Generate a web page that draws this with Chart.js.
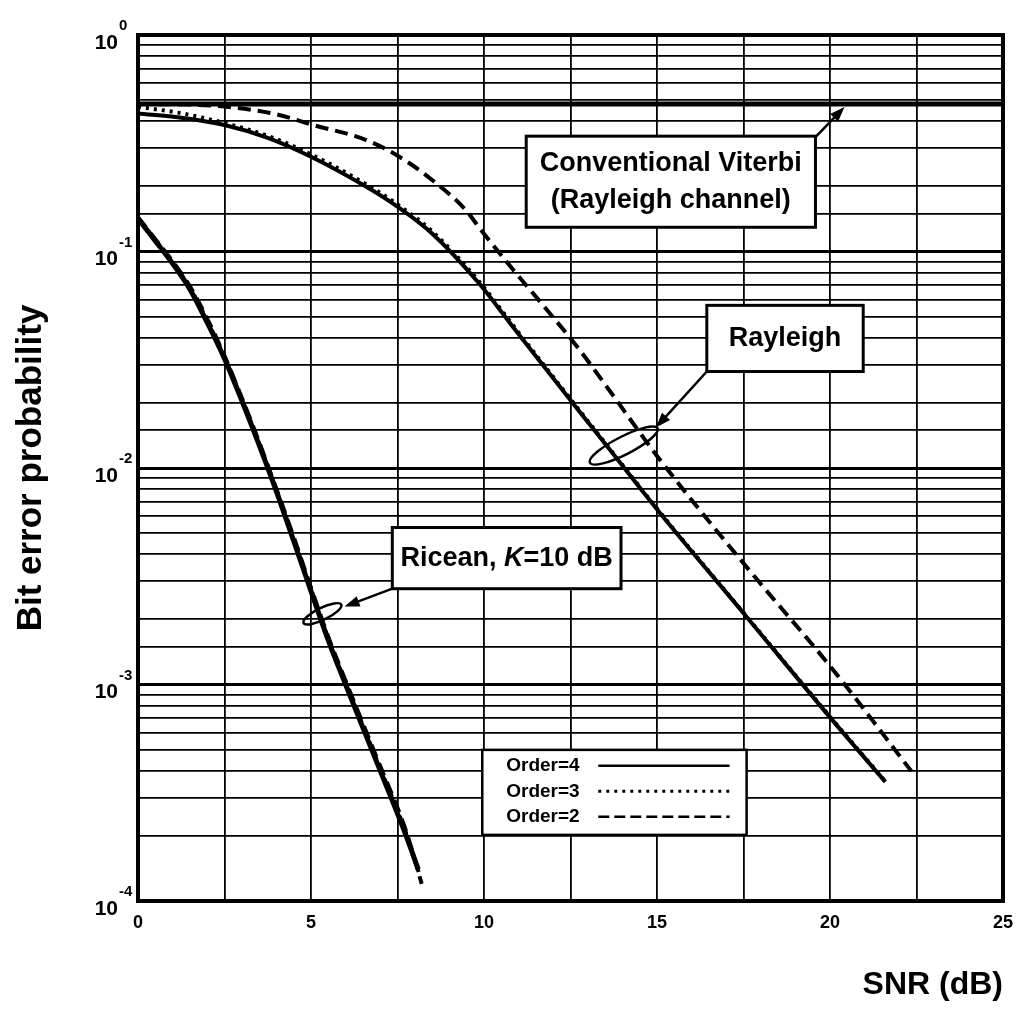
<!DOCTYPE html>
<html>
<head>
<meta charset="utf-8">
<script src="https://cdn.jsdelivr.net/npm/chart.js@4.4.1/dist/chart.umd.min.js"></script>
<style>
  html, body { margin: 0; padding: 0; background: #fff; }
  #wrap { width: 1024px; height: 1010px; }
</style>
</head>
<body>
<div id="wrap"><canvas id="myChart" width="1024" height="1010"></canvas></div>
<script>
// Values: SNR in dB, bit error probability
const viterbiSnr = [0, 25];
const viterbiBer = [0.48, 0.48];

const rayleigh4Snr = [0, 1.25, 2.5, 3.75, 5, 6.6, 7.5, 8.5, 9.86, 10.82, 11.78, 12.74, 13.61, 15.05, 17.55, 20.05, 21.6];
const rayleigh4Ber = [0.434, 0.415, 0.384, 0.335, 0.274, 0.199, 0.161, 0.121, 0.0711, 0.0452, 0.0288, 0.0184, 0.0123, 0.0063, 0.00209, 0.00069, 0.000355];

const rayleigh3Snr = [0, 1.25, 2.5, 3.75, 5, 6.6, 7.5, 8.5, 9.86, 10.82, 11.78, 12.74, 13.61, 15.05, 17.55, 20.05, 21.6];
const rayleigh3Ber = [0.466, 0.435, 0.392, 0.342, 0.281, 0.204, 0.165, 0.124, 0.0726, 0.046, 0.0292, 0.0186, 0.0124, 0.00635, 0.0021, 0.000695, 0.000357];

const rayleigh2Snr = [0, 1.5, 2.75, 4, 5.06, 6.6, 7.55, 8.5, 9.48, 9.86, 10.82, 11.78, 12.74, 13.55, 15.05, 17.55, 20.05, 22.35];
const rayleigh2Ber = [0.48, 0.477, 0.463, 0.43, 0.384, 0.327, 0.274, 0.214, 0.155, 0.129, 0.0832, 0.0547, 0.0355, 0.0237, 0.0111, 0.00355, 0.00119, 0.000398];

const ricean4Snr = [0, 0.5, 1, 1.5, 2, 2.5, 3, 3.5, 4, 4.5, 5, 5.5, 6, 7, 7.75, 8.1];
const ricean4Ber = [0.142, 0.112, 0.088, 0.067, 0.047, 0.032, 0.0205, 0.0128, 0.0078, 0.0046, 0.0027, 0.0016, 0.001, 0.0004, 0.0002, 0.00014];

const ricean3Snr = [0, 0.5, 1, 1.5, 2, 2.5, 3, 3.5, 4, 4.5, 5, 5.5, 6, 7, 7.75, 8.15];
const ricean3Ber = [0.143, 0.113, 0.089, 0.068, 0.048, 0.0325, 0.0208, 0.013, 0.0079, 0.0047, 0.00275, 0.00163, 0.00102, 0.00041, 0.000205, 0.00013];

const ricean2Snr = [0, 0.5, 1, 1.5, 2, 2.5, 3, 3.5, 4, 4.5, 5, 5.5, 6, 7, 7.75, 8.2];
const ricean2Ber = [0.144, 0.114, 0.09, 0.069, 0.049, 0.033, 0.0211, 0.0132, 0.008, 0.0048, 0.0028, 0.00166, 0.00104, 0.00042, 0.00021, 0.00012];

const xTickLabels = [0, 5, 10, 15, 20, 25];
const yTickExponents = [0, -1, -2, -3, -4];
const legendLabels = ['Order=4', 'Order=3', 'Order=2'];

const FONT = "'Liberation Sans', Arial, Helvetica, sans-serif";

const toPoints = (xs, ys) => xs.map((x, i) => ({ x: x, y: ys[i] }));

const solid = [];
const dotted = [3, 5];
const dashed = [13, 7];

const series = (label, xs, ys, dash, width) => ({
    label: label,
    data: toPoints(xs, ys),
    borderColor: '#000',
    borderWidth: width,
    borderDash: dash,
    pointRadius: 0,
    fill: false,
    cubicInterpolationMode: 'monotone',
});

// annotations are anchored in data coordinates (dB, probability)
const boxes = [
    { x1: 11.22, x2: 19.58, y1: 0.341, y2: 0.1294, lines: ['Conventional Viterbi', '(Rayleigh channel)'] },
    { x1: 16.44, x2: 20.96, y1: 0.0564, y2: 0.0279, lines: ['Rayleigh'] },
    { x1: 7.35, x2: 13.96, y1: 0.00531, y2: 0.00277, ricean: true },
];
const arrows = [
    { from: [19.58, 0.3375], to: [20.42, 0.4646] },
    { from: [16.44, 0.0279], to: [14.97, 0.01539] },
    { from: [7.35, 0.00277], to: [5.97, 0.00229] },
];
const rings = [
    { x: 14.04, y: 0.0127, rx: 38, ry: 9, angle: -27 },
    { x: 5.33, y: 0.00212, rx: 21, ry: 6, angle: -26 },
];
const legendBox = { x1: 9.95, x2: 17.59, y1: 0.000499, y2: 0.000202 };

const isDecade = (v) => Math.abs(Math.log10(v) - Math.round(Math.log10(v))) < 1e-6;

const drawArrow = (ctx, x0, y0, x1, y1) => {
    const a = Math.atan2(y1 - y0, x1 - x0);
    const len = 15, half = 5.5;
    ctx.beginPath();
    ctx.moveTo(x0, y0);
    ctx.lineTo(x1 - Math.cos(a) * len * 0.8, y1 - Math.sin(a) * len * 0.8);
    ctx.stroke();
    ctx.beginPath();
    ctx.moveTo(x1, y1);
    ctx.lineTo(x1 - Math.cos(a) * len - Math.sin(a) * half, y1 - Math.sin(a) * len + Math.cos(a) * half);
    ctx.lineTo(x1 - Math.cos(a) * len + Math.sin(a) * half, y1 - Math.sin(a) * len - Math.cos(a) * half);
    ctx.closePath();
    ctx.fill();
};

const figurePlugin = {
    id: 'figure',
    beforeDraw(chart) {
        const ctx = chart.ctx;
        ctx.save();
        ctx.fillStyle = '#fff';
        ctx.fillRect(0, 0, chart.width, chart.height);
        ctx.restore();
    },
    afterDatasetsDraw(chart) {
        const ctx = chart.ctx;
        const sx = chart.scales.x, sy = chart.scales.y;
        const area = chart.chartArea;
        const X = (v) => sx.getPixelForValue(v);
        const Y = (v) => sy.getPixelForValue(v);
        ctx.save();
        ctx.strokeStyle = '#000';
        ctx.fillStyle = '#000';

        // heavy frame
        ctx.lineWidth = 4;
        ctx.strokeRect(area.left, area.top, area.right - area.left, area.bottom - area.top);

        // y tick labels 10^n
        ctx.textBaseline = 'middle';
        yTickExponents.forEach((e) => {
            const y = Y(Math.pow(10, e));
            ctx.font = 'bold 21px ' + FONT;
            ctx.textAlign = 'right';
            ctx.fillText('10', area.left - 20, y + 8);
            ctx.font = 'bold 15px ' + FONT;
            ctx.textAlign = 'left';
            ctx.fillText(String(e), area.left - 19, y - 9);
        });

        // boxes
        boxes.forEach((b) => {
            const l = X(b.x1), r = X(b.x2), t = Y(b.y1), btm = Y(b.y2);
            ctx.fillStyle = '#fff';
            ctx.fillRect(l, t, r - l, btm - t);
            ctx.lineWidth = 3;
            ctx.strokeRect(l, t, r - l, btm - t);
            ctx.fillStyle = '#000';
            ctx.textBaseline = 'middle';
            const cx = (l + r) / 2, cy = (t + btm) / 2;
            if (b.ricean) {
                const parts = [['Ricean, ', 'bold'], ['K', 'italic bold'], ['=10 dB', 'bold']];
                let w = 0;
                parts.forEach((p) => { ctx.font = p[1] + ' 27px ' + FONT; w += ctx.measureText(p[0]).width; });
                let x = cx - w / 2;
                ctx.textAlign = 'left';
                parts.forEach((p) => {
                    ctx.font = p[1] + ' 27px ' + FONT;
                    ctx.fillText(p[0], x, cy);
                    x += ctx.measureText(p[0]).width;
                });
            } else {
                ctx.font = 'bold 27px ' + FONT;
                ctx.textAlign = 'center';
                const step = 37;
                b.lines.forEach((s, i) => {
                    ctx.fillText(s, cx, cy + (i - (b.lines.length - 1) / 2) * step);
                });
            }
        });

        // arrows
        ctx.lineWidth = 2.5;
        arrows.forEach((a) => drawArrow(ctx, X(a.from[0]), Y(a.from[1]), X(a.to[0]), Y(a.to[1])));

        // rings round the curve groups
        rings.forEach((g) => {
            ctx.beginPath();
            ctx.ellipse(X(g.x), Y(g.y), g.rx, g.ry, g.angle * Math.PI / 180, 0, Math.PI * 2);
            ctx.stroke();
        });

        // legend
        const l = X(legendBox.x1), r = X(legendBox.x2), t = Y(legendBox.y1), btm = Y(legendBox.y2);
        ctx.fillStyle = '#fff';
        ctx.fillRect(l, t, r - l, btm - t);
        ctx.lineWidth = 2.5;
        ctx.strokeRect(l, t, r - l, btm - t);
        ctx.fillStyle = '#000';
        ctx.font = 'bold 19px ' + FONT;
        ctx.textAlign = 'left';
        ctx.textBaseline = 'middle';
        const styles = [solid, dotted, dashed];
        legendLabels.forEach((s, i) => {
            const y = t + 16 + i * 25.5;
            ctx.fillText(s, l + 24, y);
            ctx.beginPath();
            ctx.setLineDash(i === 2 ? [11, 5] : styles[i]);
            ctx.lineWidth = i === 1 ? 3 : 2.5;
            ctx.moveTo(l + 116, y);
            ctx.lineTo(r - 17, y);
            ctx.stroke();
        });
        ctx.setLineDash([]);
        ctx.restore();
    }
};

const ctx = document.getElementById('myChart');

new Chart(ctx, {
    type: 'line',
    data: {
        datasets: [
            series('Conventional Viterbi', viterbiSnr, viterbiBer, solid, 5),
            series('Rayleigh, order 4', rayleigh4Snr, rayleigh4Ber, solid, 4),
            series('Rayleigh, order 3', rayleigh3Snr, rayleigh3Ber, dotted, 4),
            series('Rayleigh, order 2', rayleigh2Snr, rayleigh2Ber, dashed, 4),
            series('Ricean, order 4', ricean4Snr, ricean4Ber, solid, 5),
            series('Ricean, order 3', ricean3Snr, ricean3Ber, dotted, 4),
            series('Ricean, order 2', ricean2Snr, ricean2Ber, dashed, 4),
        ]
    },
    options: {
        responsive: false,
        animation: false,
        layout: { padding: { left: 0, right: 19, top: 35, bottom: 0 } },
        plugins: {
            legend: { display: false },
            tooltip: { enabled: false },
        },
        scales: {
            x: {
                type: 'linear',
                min: 0,
                max: 25,
                border: { display: false },
                grid: { color: '#000', lineWidth: 1.8, drawTicks: false },
                ticks: {
                    stepSize: 2.5,
                    autoSkip: false,
                    maxRotation: 0,
                    padding: 11,
                    color: '#000',
                    font: { family: FONT, size: 18, weight: 'bold' },
                    callback: (v) => xTickLabels.includes(v) ? String(v) : '',
                },
                title: {
                    display: true,
                    text: 'SNR (dB)',
                    align: 'end',
                    color: '#000',
                    font: { family: FONT, size: 32, weight: 'bold' },
                    padding: { top: 21.2, bottom: 5.8 },
                },
            },
            y: {
                type: 'logarithmic',
                min: 1e-4,
                max: 1,
                border: { display: false },
                grid: {
                    color: '#000',
                    drawTicks: false,
                    lineWidth: (c) => (c.tick && isDecade(c.tick.value)) ? 3 : 1.7,
                },
                ticks: { display: false },
                title: {
                    display: true,
                    text: 'Bit error probability',
                    color: '#000',
                    font: { family: FONT, size: 35, weight: 'bold' },
                    padding: { top: 10, bottom: 86 },
                },
            },
        },
    },
    plugins: [figurePlugin],
});
</script>
</body>
</html>
